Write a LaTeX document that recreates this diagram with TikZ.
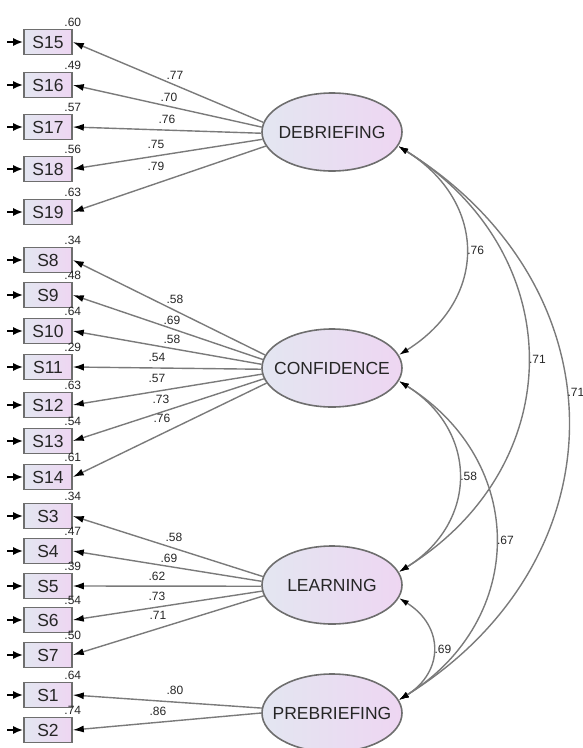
\documentclass[tikz,border=0pt]{standalone}
\usepackage{fontspec}
\setmainfont{Liberation Sans}
\usetikzlibrary{arrows.meta,shapes.geometric}
\definecolor{fillA}{HTML}{E3E6F1}
\definecolor{fillB}{HTML}{EED6F2}
\definecolor{rim}{HTML}{6E6E6E}
\definecolor{wire}{HTML}{7A7A7A}

\tikzset{
  obs/.style={rectangle, draw=rim, line width=1.6pt, left color=fillA, right color=fillB,
    minimum width=48pt, minimum height=25pt, inner sep=0pt,
    font=\fontsize{17.5}{18}\selectfont, text=black!85},
  lat/.style={ellipse, draw=rim, line width=1.6pt, left color=fillA, right color=fillB,
    minimum width=140pt, minimum height=78pt, inner xsep=-12pt, inner ysep=0pt,
    font=\fontsize{17.5}{18}\selectfont, text=black!85},
  coef/.style={font=\fontsize{12}{12}\selectfont, inner sep=1pt, text=black!85},
  var/.style={coef, anchor=south, yshift=1pt},
  load/.style={draw=wire, line width=1.4pt, -{Latex[length=11pt,width=7pt,black]}},
  cov/.style={draw=wire, line width=1.4pt, out=-32, in=32,
    {Latex[length=10pt,width=6pt,black]}-{Latex[length=10pt,width=6pt,black]}},
  err/.style={line width=2pt, -{Latex[length=10pt,width=8pt]}}
}

\begin{document}
\begin{tikzpicture}[x=1pt,y=1pt]
\useasboundingbox (0,0) rectangle (583,-748);

% Factors
\node[lat] (deb)  at (332,-132) {DEBRIEFING};
\node[lat] (conf) at (332,-368) {CONFIDENCE};
\node[lat] (lrn)  at (332,-585) {LEARNING};
\node[lat] (pre)  at (332,-713) {PREBRIEFING};

% Items
  %debriefing
  \foreach \s/\y/\v/\a/\c/\cx/\cy in {15/42/.60/172/.77/175/75, 16/85/.49/176/.70/169/97,
      17/127/.57/181/.76/167/119, 18/169/.56/186/.75/156/144, 19/212/.63/192/.79/156/166}{
    \node[obs, label={[var]north east:\v}] (s\s) at (48,-\y) {S\s};
    \coordinate (e\s) at ([xshift=-16pt]s\s.west);
    \draw[err] (e\s) -- (s\s);
    \draw[load] (deb.\a) -- (s\s.east);
    \node[coef] (c\s) at (\cx,-\cy) {\c};
  }
  %confidence
  \foreach \s/\y/\v/\a/\c/\cx/\cy in {8/260/.34/169/.58/175/299, 9/295/.48/173/.69/172/320,
      10/331/.64/177/.58/172/339, 11/367/.29/181/.54/157/357, 12/405/.63/185/.57/157/378,
      13/441/.54/189/.73/161/399, 14/477/.61/193/.76/162/418}{
    \node[obs, label={[var]north east:\v}] (s\s) at (48,-\y) {S\s};
    \coordinate (e\s) at ([xshift=-16pt]s\s.west);
    \draw[err] (e\s) -- (s\s);
    \draw[load] (conf.\a) -- (s\s.east);
    \node[coef] (c\s) at (\cx,-\cy) {\c};
  }
  %learning
  \foreach \s/\y/\v/\a/\c/\cx/\cy in {3/516/.34/173/.58/174/537, 4/551/.47/177/.69/169/558,
      5/586/.39/181/.62/157/576, 6/620/.54/185/.73/157/596, 7/655/.50/189/.71/158/615}{
    \node[obs, label={[var]north east:\v}] (s\s) at (48,-\y) {S\s};
    \coordinate (e\s) at ([xshift=-16pt]s\s.west);
    \draw[err] (e\s) -- (s\s);
    \draw[load] (lrn.\a) -- (s\s.east);
    \node[coef] (c\s) at (\cx,-\cy) {\c};
  }
  %prebriefing
  \foreach \s/\y/\v/\a/\c/\cx/\cy in {1/695/.64/176/.80/175/690, 2/730/.74/180/.86/158/711}{
    \node[obs, label={[var]north east:\v}] (s\s) at (48,-\y) {S\s};
    \coordinate (e\s) at ([xshift=-16pt]s\s.west);
    \draw[err] (e\s) -- (s\s);
    \draw[load] (pre.\a) -- (s\s.east);
    \node[coef] (c\s) at (\cx,-\cy) {\c};
  }

% Covariances
\draw[cov] (deb.-12) to[looseness=1.29] node[coef,anchor=west] (k1) {.76} (conf.11);
\draw[cov] (deb.-12) to[looseness=1.22] node[coef,anchor=west] (k2) {.71} (lrn.11);
\draw[cov] (deb.-12) to[looseness=1.23] node[coef,anchor=west,pos=0.45] (k3) {.71} (pre.11);
\draw[cov] (conf.-11) to[looseness=1.26] node[coef,anchor=west] (k4) {.58} (lrn.11);
\draw[cov] (conf.-11) to[looseness=1.22] node[coef,anchor=west] (k5) {.67} (pre.11);
\draw[cov] (lrn.-11) to[looseness=1.34] node[coef,anchor=west] (k6) {.69} (pre.11);

\end{tikzpicture}
\end{document}
